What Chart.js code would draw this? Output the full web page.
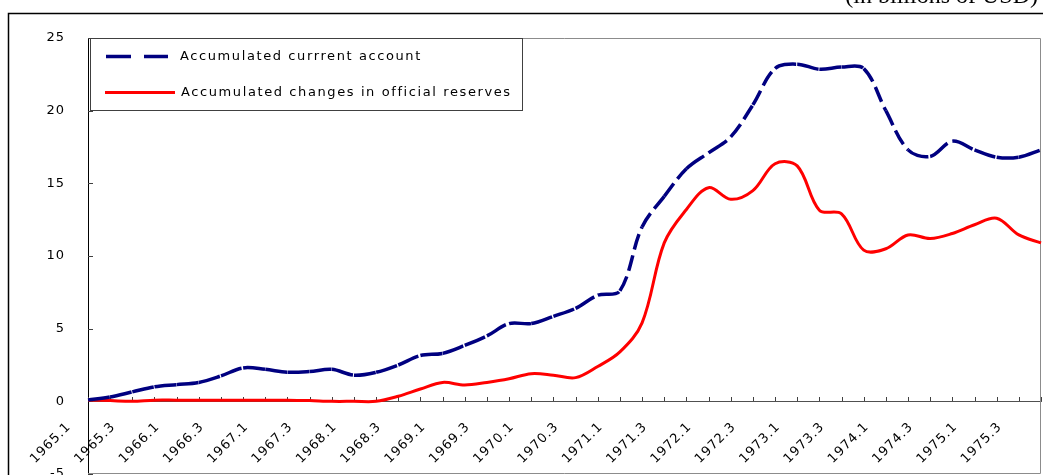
<!DOCTYPE html>
<html>
<head>
<meta charset="utf-8">
<script src="https://cdn.jsdelivr.net/npm/chart.js@4.4.1/dist/chart.umd.min.js"></script>
<style>
  html, body { margin: 0; padding: 0; background: #fff; overflow: hidden; }
  #wrap { position: relative; width: 1043px; height: 475px; }
</style>
</head>
<body>
<div id="wrap"><canvas id="chart"></canvas></div>
<script>
// quarters 1965.1 .. 1975.4
const quarters = [
  "1965.1", "1965.2", "1965.3", "1965.4", "1966.1", "1966.2", "1966.3", "1966.4",
  "1967.1", "1967.2", "1967.3", "1967.4", "1968.1", "1968.2", "1968.3", "1968.4",
  "1969.1", "1969.2", "1969.3", "1969.4", "1970.1", "1970.2", "1970.3", "1970.4",
  "1971.1", "1971.2", "1971.3", "1971.4", "1972.1", "1972.2", "1972.3", "1972.4",
  "1973.1", "1973.2", "1973.3", "1973.4", "1974.1", "1974.2", "1974.3", "1974.4",
  "1975.1", "1975.2", "1975.3", "1975.4",
];

const currentAccount = [
  0.1, 0.3, 0.65, 1.0, 1.15, 1.3, 1.75, 2.3,
  2.2, 2.0, 2.05, 2.2, 1.8, 2.0, 2.5, 3.15,
  3.3, 3.85, 4.5, 5.35, 5.35, 5.85, 6.4, 7.3,
  7.6, 12.0, 14.1, 16.0, 17.1, 18.2, 20.4, 22.9,
  23.2, 22.85, 23.0, 22.9, 20.0, 17.3, 16.85, 17.9,
  17.3, 16.8, 16.8, 17.3,
];

const officialReserves = [
  0.1, 0.05, 0.0, 0.08, 0.08, 0.08, 0.08, 0.08,
  0.08, 0.08, 0.05, 0.0, 0.0, 0.0, 0.35, 0.85,
  1.3, 1.12, 1.3, 1.55, 1.9, 1.8, 1.63, 2.4,
  3.4, 5.4, 10.9, 13.2, 14.7, 13.9, 14.5, 16.35,
  16.2, 13.15, 12.9, 10.4, 10.5, 11.45, 11.2, 11.55,
  12.15, 12.6, 11.45, 10.9,
];

const seriesNames = ["Accumulated currrent account", "Accumulated changes in official reserves"];
const unitNote = "(in billions of USD)";

const NAVY = "#000080";
const RED = "#ff0000";
const FONT = "DejaVu Sans";

// letter spacing like the original gothic font
const spacing = {
  id: "spacing",
  beforeDraw(chart) { chart.ctx.letterSpacing = "1px"; },
  afterDraw(chart) { chart.ctx.letterSpacing = "0px"; },
};

// outer frame, plot frame and inward tick marks
const frame = {
  id: "frame",
  beforeDraw(chart) {
    const { ctx, width, height } = chart;
    ctx.save();
    ctx.strokeStyle = "#000";
    ctx.lineWidth = 1.5;
    ctx.beginPath();
    ctx.moveTo(8.5, height);
    ctx.lineTo(8.5, 13.5);
    ctx.lineTo(width, 13.5);
    ctx.stroke();
    ctx.fillStyle = "#000";
    ctx.font = "24px 'Liberation Serif'";
    ctx.letterSpacing = "0px";
    ctx.textAlign = "right";
    ctx.textBaseline = "alphabetic";
    ctx.fillText(unitNote, 1038, 3);
    ctx.restore();
  },
  beforeDatasetsDraw(chart) {
    const { ctx, chartArea: a, scales: { x, y } } = chart;
    ctx.save();
    ctx.strokeStyle = "#8c8c8c";
    ctx.lineWidth = 1;
    ctx.beginPath();
    ctx.moveTo(a.left, a.top + 0.5);
    ctx.lineTo(a.right - 0.5, a.top + 0.5);
    ctx.lineTo(a.right - 0.5, a.bottom - 0.5);
    ctx.lineTo(a.left, a.bottom - 0.5);
    ctx.stroke();

    ctx.strokeStyle = "#404040";
    ctx.beginPath();
    const y0 = Math.round(y.getPixelForValue(0));
    x.ticks.forEach((t, i) => {
      const px = Math.round(x.getPixelForTick(i)) + 0.5;
      ctx.moveTo(px, y0);
      ctx.lineTo(px, y0 - 4);
    });
    y.ticks.forEach((t, i) => {
      const py = Math.round(y.getPixelForTick(i)) + 0.5;
      ctx.moveTo(a.left, py);
      ctx.lineTo(a.left + 5, py);
    });
    ctx.stroke();
    ctx.restore();
  },
};

// legend box in the upper left corner of the plot
const legendBox = {
  id: "legendBox",
  afterDatasetsDraw(chart) {
    const { ctx, chartArea: a } = chart;
    const sets = chart.data.datasets;
    const bx = a.left + 2, by = a.top;
    ctx.save();
    ctx.fillStyle = "#fff";
    ctx.fillRect(bx, by, 432, 72);
    ctx.strokeStyle = "#404040";
    ctx.lineWidth = 1;
    ctx.strokeRect(bx + 0.5, by + 0.5, 432, 72);

    ctx.lineCap = "butt";
    ctx.strokeStyle = sets[0].borderColor;
    ctx.lineWidth = 3.5;
    ctx.setLineDash([25, 13]);
    ctx.beginPath();
    ctx.moveTo(bx + 16, by + 18.5);
    ctx.lineTo(bx + 78, by + 18.5);
    ctx.stroke();

    ctx.strokeStyle = sets[1].borderColor;
    ctx.lineWidth = 3;
    ctx.setLineDash([]);
    ctx.beginPath();
    ctx.moveTo(bx + 15, by + 54.5);
    ctx.lineTo(bx + 85, by + 54.5);
    ctx.stroke();

    ctx.fillStyle = "#000";
    ctx.font = "13px '" + FONT + "'";
    ctx.letterSpacing = "1.6px";
    ctx.textAlign = "left";
    ctx.textBaseline = "middle";
    ctx.fillText(sets[0].label, bx + 90, by + 19);
    ctx.fillText(sets[1].label, bx + 91, by + 55);
    ctx.restore();
  },
};

// dash restarts on every segment; steep segments get shorter dashes
function segmentDash(c) {
  const len = Math.hypot(c.p1.x - c.p0.x, c.p1.y - c.p0.y);
  const dash = len > 30 ? 16 : 22;
  return [dash + (c.p0DataIndex % 2) * 0.001, 6];
}

new Chart(document.getElementById("chart"), {
  type: "line",
  data: {
    labels: quarters,
    datasets: [
      {
        label: seriesNames[0],
        data: currentAccount,
        borderColor: NAVY,
        borderWidth: 3.5,
        pointRadius: 0,
        tension: 0.35,
        segment: { borderDash: segmentDash },
      },
      {
        label: seriesNames[1],
        data: officialReserves,
        borderColor: RED,
        borderWidth: 3,
        pointRadius: 0,
        tension: 0.35,
      },
    ],
  },
  options: {
    responsive: true,
    maintainAspectRatio: false,
    animation: false,
    layout: { padding: { top: 38, right: 2, bottom: 1, left: 0 } },
    plugins: {
      legend: { display: false },
      tooltip: { enabled: false },
    },
    scales: {
      x: {
        position: { y: 0 },
        offset: false,
        grid: { display: false },
        border: { color: "#505050", width: 1 },
        afterFit: (s) => { s.height = 0; s.paddingLeft = 0; s.paddingRight = 0; },
        ticks: {
          autoSkip: false,
          minRotation: 45,
          maxRotation: 45,
          labelOffset: -19,
          padding: 10,
          color: "#000",
          font: { family: FONT, size: 13 },
          callback: function (value, index) {
            return index % 2 === 0 ? this.getLabelForValue(value) : "";
          },
        },
      },
      y: {
        min: -5,
        max: 25,
        grid: { display: false },
        border: { color: "#000", width: 1 },
        afterFit: (s) => { s.width = 88; s.paddingTop = 0; s.paddingBottom = 0; },
        ticks: {
          stepSize: 5,
          padding: 15,
          color: "#000",
          font: { family: FONT, size: 13 },
        },
      },
    },
  },
  plugins: [spacing, frame, legendBox],
});
</script>
</body>
</html>
